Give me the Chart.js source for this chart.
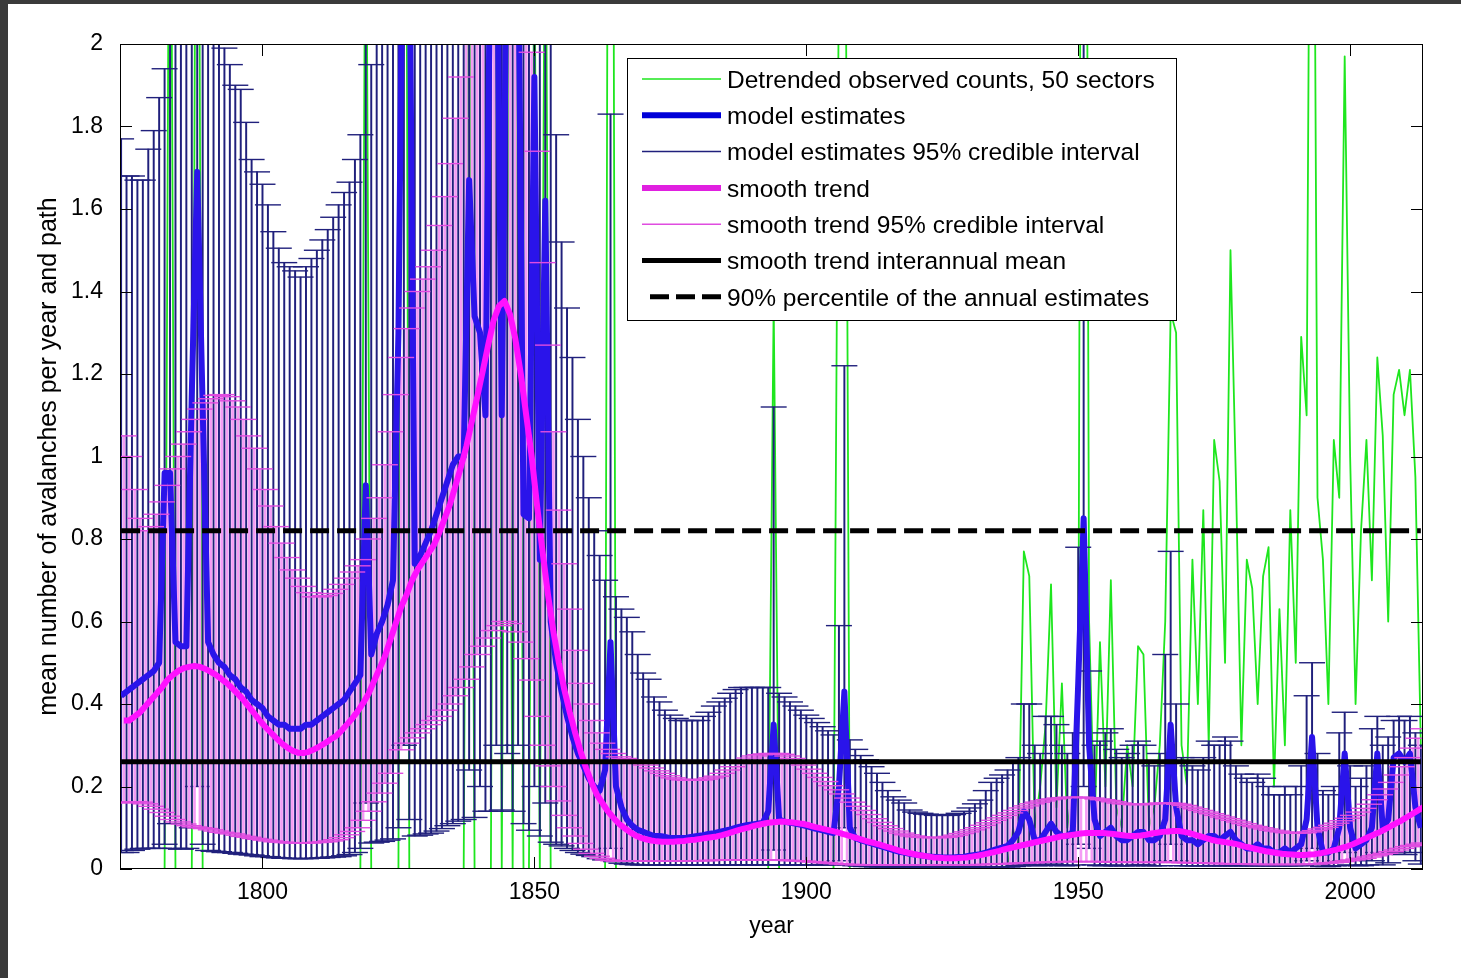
<!DOCTYPE html>
<html>
<head>
<meta charset="utf-8">
<title>Avalanches per year and path</title>
<script src="https://cdn.jsdelivr.net/npm/chart.js@4.4.1/dist/chart.umd.min.js"></script>
<style>
  html, body { margin: 0; padding: 0; background: #3a3a3a; }
  #wrap { position: absolute; left: 8px; top: 4px; width: 1453px; height: 974px; background: #fff; }
</style>
</head>
<body>
<div id="wrap"><canvas id="chart" width="1453" height="974"></canvas></div>
<script>
'use strict';

// annual values, 1774 .. 2013
const firstYear = 1774;

const observed = [
  0, 0, 0, 0, 0, 0,
  0, 0, 0, 3.0, 0, 0, 0, 0, 3.6, 0,
  0, 0, 0, 0, 0, 0, 0, 0, 0, 0,
  0, 0, 0, 0, 0, 0, 0, 0, 0, 0,
  0, 0, 0, 0, 0, 0, 0, 0, 0, 2.6,
  0, 0, 0, 0, 0, 0, 4.5, 0, 0, 0,
  0, 0, 0, 0, 0, 0, 0, 0, 2.5, 0,
  0, 0, 0, 3.2, 0, 2.4, 0, 2.6, 0, 0,
  2.3, 0, 2.6, 0, 0, 0, 0, 0, 0, 0,
  0, 0, 0, 0, 5.0, 0, 0, 0, 0, 0,
  0, 0, 0, 0, 0, 0, 0, 0, 0, 0,
  0, 0, 0, 0, 0, 0, 0, 0, 0, 0,
  0, 0, 0, 0, 1.37, 0, 0, 0, 0, 0,
  0, 0, 0, 0, 0, 0, 2.2, 3.0, 0, 0,
  0, 0, 0, 0, 0, 0, 0, 0, 0, 0,
  0, 0, 0, 0, 0, 0, 0, 0, 0, 0,
  0, 0, 0, 0, 0, 0, 0, 0, 0.1, 0.05,
  0.77, 0.71, 0.1, 0.2, 0.35, 0.69, 0.15, 0.45, 0.1, 0.2,
  0.3, 5.0, 0.6, 0.1, 0.55, 0.2, 0.7, 0.15, 0.1, 0.3,
  0.2, 0.54, 0.52, 0.1, 0.15, 0.3, 0.6, 1.35, 1.3, 0.3,
  0.2, 0.75, 0.4, 0.87, 0.3, 1.04, 0.94, 0.5, 1.5, 0.94,
  0.3, 0.75, 0.68, 0.4, 0.71, 0.78, 0.2, 0.63, 0.3, 0.87,
  0.5, 1.29, 1.1, 3.5, 0.9, 0.75, 0.4, 1.04, 0.9, 1.97,
  1.0, 0.4, 0.82, 1.04, 0.7, 1.24, 1.05, 0.6, 1.15, 1.21,
  1.1, 1.21, 0.95, 0.3
];

const modelEst = [
  0.42, 0.43, 0.44, 0.45, 0.46, 0.47,
  0.48, 0.5, 0.96, 0.96, 0.55, 0.54, 0.54, 1.15, 1.69, 1.12,
  0.55, 0.52, 0.5, 0.49, 0.47, 0.46, 0.44, 0.43, 0.41, 0.4,
  0.39, 0.37, 0.36, 0.35, 0.35, 0.34, 0.34, 0.34, 0.35, 0.35,
  0.36, 0.37, 0.38, 0.39, 0.4, 0.41, 0.43, 0.45, 0.47, 0.93,
  0.52, 0.57, 0.6, 0.64, 0.7, 1.3, 2.6, 2.3, 0.74, 0.76,
  0.79, 0.82, 0.86, 0.9, 0.94, 0.98, 1.0, 1.0, 1.67, 1.34,
  1.3, 1.1, 2.4, 2.5, 1.1, 2.4, 2.4, 2.3, 0.86, 0.85,
  1.92, 0.75, 1.62, 0.6, 0.5, 0.43, 0.37, 0.32, 0.28, 0.25,
  0.22, 0.2, 0.19, 0.24, 0.55, 0.2, 0.15, 0.12, 0.105, 0.095,
  0.09, 0.085, 0.08, 0.08, 0.078, 0.075, 0.075, 0.075, 0.076, 0.078,
  0.08, 0.082, 0.085, 0.087, 0.09, 0.093, 0.096, 0.1, 0.103, 0.106,
  0.108, 0.11, 0.112, 0.14, 0.35, 0.12, 0.115, 0.112, 0.11, 0.107,
  0.104, 0.1, 0.097, 0.094, 0.09, 0.087, 0.2, 0.43, 0.1, 0.075,
  0.07, 0.066, 0.062, 0.058, 0.054, 0.05, 0.046, 0.042, 0.04, 0.037,
  0.035, 0.033, 0.031, 0.03, 0.029, 0.028, 0.028, 0.028, 0.029, 0.03,
  0.032, 0.034, 0.036, 0.04, 0.044, 0.048, 0.052, 0.056, 0.07, 0.09,
  0.14, 0.12, 0.07, 0.07, 0.09, 0.11, 0.09, 0.08, 0.08, 0.09,
  0.45, 0.85, 0.3, 0.12, 0.08, 0.09, 0.1, 0.08, 0.07, 0.07,
  0.08, 0.09, 0.09, 0.07, 0.07, 0.08, 0.12, 0.35, 0.15, 0.08,
  0.07, 0.07, 0.06, 0.07, 0.08, 0.08, 0.07, 0.08, 0.09, 0.07,
  0.06, 0.05, 0.05, 0.06, 0.05, 0.05, 0.04, 0.04, 0.05, 0.04,
  0.05, 0.06, 0.12, 0.32, 0.1, 0.04, 0.04, 0.05, 0.1, 0.28,
  0.1, 0.05, 0.06, 0.07, 0.1, 0.28, 0.1, 0.12, 0.27, 0.28,
  0.26, 0.28, 0.15, 0.1
];

const modelHi = [
  1.77, 1.68, 1.68, 1.67, 1.67, 1.745,
  1.79, 1.87, 1.94, 2.4, 2.3, 2.3, 2.4, 2.5, 2.8, 2.5,
  2.3, 2.2, 2.05, 1.99, 1.95, 1.9, 1.89, 1.81, 1.72, 1.69,
  1.66, 1.61, 1.545, 1.505, 1.47, 1.46, 1.45, 1.435, 1.46, 1.48,
  1.5, 1.525, 1.55, 1.58, 1.61, 1.64, 1.665, 1.72, 1.78, 2.4,
  1.95, 2.1, 2.2, 2.3, 2.4, 2.6, 3.0, 2.7, 2.5, 2.5,
  2.5, 2.6, 2.6, 2.7, 2.7, 2.8, 2.8, 2.9, 3.0, 2.9,
  3.0, 3.0, 3.0, 3.2, 3.0, 3.2, 3.0, 3.2, 2.8, 2.6,
  2.9, 2.3, 2.6, 2.05, 1.78, 1.52, 1.36, 1.24, 1.09, 1.0,
  0.9, 0.82, 0.76, 0.7, 1.83, 0.66, 0.63, 0.61, 0.575, 0.52,
  0.475, 0.46, 0.417, 0.405, 0.385, 0.373, 0.365, 0.36, 0.36, 0.36,
  0.36, 0.37, 0.38, 0.395, 0.405, 0.414, 0.426, 0.435, 0.44, 0.44,
  0.44, 0.44, 0.44, 0.44, 1.12, 0.426, 0.417, 0.405, 0.395, 0.385,
  0.373, 0.365, 0.355, 0.345, 0.335, 0.325, 0.59, 1.22, 0.313, 0.29,
  0.275, 0.265, 0.248, 0.232, 0.21, 0.19, 0.175, 0.167, 0.16, 0.143,
  0.138, 0.135, 0.133, 0.132, 0.13, 0.13, 0.13, 0.132, 0.135, 0.14,
  0.148, 0.158, 0.167, 0.19, 0.21, 0.22, 0.228, 0.24, 0.26, 0.27,
  0.4, 0.4, 0.3, 0.28, 0.37, 0.37, 0.35, 0.3, 0.28, 0.33,
  0.78, 2.4, 0.48, 0.3, 0.31, 0.33, 0.34, 0.29, 0.27, 0.28,
  0.3, 0.31, 0.3, 0.26, 0.25, 0.28, 0.52, 0.77, 0.4, 0.27,
  0.26, 0.25, 0.24, 0.27, 0.31, 0.3, 0.3, 0.32, 0.31, 0.25,
  0.23, 0.22, 0.21, 0.23, 0.22, 0.2, 0.18, 0.18, 0.2, 0.18,
  0.2, 0.25, 0.42, 0.5, 0.28, 0.19, 0.18, 0.2, 0.33, 0.38,
  0.25, 0.2, 0.22, 0.25, 0.34, 0.37, 0.3, 0.32, 0.36, 0.37,
  0.36, 0.37, 0.33, 0.3
];

const modelLo = [
  0.04, 0.04, 0.045, 0.048, 0.05, 0.05,
  0.05, 0.05, 0.06, 0.11, 0.05, 0.048, 0.05, 0.1, 0.2, 0.06,
  0.045, 0.043, 0.042, 0.04, 0.04, 0.038, 0.036, 0.035, 0.034, 0.032,
  0.03, 0.03, 0.028, 0.027, 0.026, 0.026, 0.025, 0.025, 0.025, 0.026,
  0.026, 0.027, 0.028, 0.029, 0.03, 0.032, 0.035, 0.04, 0.05, 0.16,
  0.063, 0.065, 0.067, 0.07, 0.073, 0.1, 0.3, 0.12, 0.08, 0.082,
  0.085, 0.087, 0.092, 0.098, 0.105, 0.11, 0.116, 0.12, 0.24, 0.125,
  0.2, 0.14, 0.14, 0.3, 0.143, 0.28, 0.14, 0.3, 0.11, 0.094,
  0.2, 0.08, 0.16, 0.065, 0.06, 0.056, 0.05, 0.045, 0.04, 0.036,
  0.033, 0.03, 0.025, 0.022, 0.05, 0.018, 0.014, 0.012, 0.011, 0.01,
  0.01, 0.01, 0.01, 0.01, 0.01, 0.01, 0.01, 0.01, 0.01, 0.01,
  0.01, 0.01, 0.01, 0.01, 0.01, 0.01, 0.01, 0.01, 0.01, 0.01,
  0.01, 0.01, 0.01, 0.01, 0.046, 0.01, 0.01, 0.01, 0.01, 0.01,
  0.01, 0.01, 0.01, 0.01, 0.01, 0.01, 0.02, 0.1, 0.01, 0.008,
  0.007, 0.006, 0.006, 0.005, 0.005, 0.005, 0.005, 0.005, 0.005, 0.005,
  0.005, 0.005, 0.005, 0.005, 0.005, 0.005, 0.005, 0.005, 0.005, 0.005,
  0.005, 0.005, 0.005, 0.005, 0.005, 0.005, 0.005, 0.005, 0.006, 0.008,
  0.012, 0.01, 0.008, 0.008, 0.01, 0.012, 0.01, 0.008, 0.008, 0.01,
  0.06, 0.2, 0.05, 0.01, 0.008, 0.008, 0.01, 0.008, 0.008, 0.008,
  0.008, 0.01, 0.01, 0.008, 0.008, 0.008, 0.02, 0.06, 0.02, 0.008,
  0.008, 0.008, 0.008, 0.008, 0.008, 0.008, 0.008, 0.008, 0.008, 0.008,
  0.008, 0.008, 0.008, 0.008, 0.008, 0.008, 0.008, 0.008, 0.008, 0.008,
  0.008, 0.008, 0.02, 0.05, 0.01, 0.006, 0.006, 0.008, 0.02, 0.04,
  0.01, 0.008, 0.008, 0.01, 0.02, 0.04, 0.01, 0.015, 0.04, 0.04,
  0.035, 0.04, 0.02, 0.012
];

const smoothTrend = [
  0.36, 0.36, 0.37, 0.38, 0.395, 0.41,
  0.425, 0.44, 0.458, 0.47, 0.48, 0.487, 0.49, 0.492, 0.49, 0.485,
  0.478, 0.47, 0.46, 0.45, 0.437, 0.424, 0.41, 0.393, 0.377, 0.36,
  0.345, 0.331, 0.318, 0.305, 0.295, 0.287, 0.282, 0.281, 0.284, 0.29,
  0.297, 0.305, 0.314, 0.322, 0.335, 0.35, 0.365, 0.382, 0.402, 0.425,
  0.455, 0.485, 0.515, 0.555, 0.595, 0.635, 0.665, 0.7, 0.725, 0.745,
  0.765, 0.785, 0.815, 0.85, 0.885, 0.93, 0.975, 1.025, 1.085, 1.145,
  1.207, 1.27, 1.33, 1.365, 1.377, 1.345, 1.285, 1.2, 1.1, 1.0,
  0.88, 0.77, 0.665, 0.575, 0.5, 0.435, 0.38, 0.33, 0.285, 0.245,
  0.21, 0.18, 0.16, 0.14, 0.125, 0.11, 0.1, 0.09, 0.082, 0.076,
  0.072, 0.069, 0.067, 0.066, 0.066, 0.066, 0.067, 0.068, 0.07, 0.071,
  0.073, 0.075, 0.077, 0.079, 0.082, 0.086, 0.09, 0.094, 0.098, 0.101,
  0.105, 0.108, 0.111, 0.113, 0.114, 0.115, 0.114, 0.113, 0.111, 0.109,
  0.106, 0.102, 0.099, 0.096, 0.093, 0.09, 0.086, 0.082, 0.078, 0.074,
  0.07, 0.066, 0.063, 0.059, 0.055, 0.051, 0.047, 0.043, 0.04, 0.037,
  0.034, 0.032, 0.03, 0.028, 0.027, 0.026, 0.026, 0.026, 0.027, 0.028,
  0.03, 0.032, 0.035, 0.038, 0.041, 0.044, 0.048, 0.051, 0.054, 0.057,
  0.06, 0.063, 0.066, 0.069, 0.072, 0.075, 0.078, 0.08, 0.082, 0.084,
  0.086, 0.087, 0.087, 0.087, 0.087, 0.086, 0.085, 0.083, 0.081, 0.08,
  0.08, 0.081, 0.083, 0.086, 0.088, 0.09, 0.091, 0.092, 0.092, 0.09,
  0.087, 0.083, 0.079, 0.075, 0.071, 0.068, 0.066, 0.064, 0.062, 0.059,
  0.055, 0.052, 0.049, 0.046, 0.043, 0.041, 0.039, 0.037, 0.036, 0.035,
  0.034, 0.034, 0.035, 0.036, 0.038, 0.041, 0.044, 0.047, 0.051, 0.055,
  0.06, 0.066, 0.072, 0.078, 0.084, 0.09, 0.097, 0.104, 0.111, 0.118,
  0.126, 0.134, 0.142, 0.15
];

const smoothHi = [
  1.05, 1.0, 0.92, 0.85, 0.82, 0.83,
  0.86, 0.89, 0.93, 0.97, 1.0, 1.03, 1.06, 1.09, 1.115, 1.13,
  1.14, 1.148, 1.15, 1.145, 1.135, 1.12, 1.09, 1.05, 1.02, 0.97,
  0.92, 0.88, 0.83, 0.79, 0.755, 0.725, 0.705, 0.685, 0.67, 0.66,
  0.66, 0.663, 0.668, 0.678, 0.69, 0.705, 0.72, 0.735, 0.75, 0.8,
  0.85, 0.9, 0.98, 1.06, 1.15, 1.24, 1.31, 1.36, 1.4, 1.43,
  1.46, 1.5, 1.56, 1.63, 1.71, 1.82, 1.92, 2.02, 2.1, 2.2,
  2.3, 2.35, 2.4, 2.4, 2.4, 2.35, 2.3, 2.2, 2.1, 1.98,
  1.74, 1.47, 1.27, 1.06, 0.87, 0.74, 0.63, 0.53, 0.45, 0.4,
  0.36, 0.33, 0.305, 0.29, 0.28, 0.272, 0.268, 0.265, 0.262, 0.258,
  0.252, 0.245, 0.238, 0.232, 0.226, 0.221, 0.218, 0.216, 0.215, 0.215,
  0.216, 0.218, 0.221, 0.225, 0.232, 0.24, 0.248, 0.256, 0.263, 0.269,
  0.274, 0.277, 0.279, 0.28, 0.28, 0.278, 0.274, 0.268, 0.26, 0.252,
  0.242, 0.232, 0.222, 0.212, 0.202, 0.192, 0.182, 0.172, 0.162, 0.152,
  0.142, 0.132, 0.122, 0.113, 0.105, 0.098, 0.092, 0.087, 0.083, 0.08,
  0.078, 0.077, 0.076, 0.076, 0.076, 0.077, 0.079, 0.082, 0.086, 0.09,
  0.095, 0.1, 0.106, 0.112, 0.118, 0.124, 0.13, 0.136, 0.142, 0.148,
  0.153, 0.158, 0.162, 0.165, 0.168, 0.17, 0.172, 0.173, 0.174, 0.174,
  0.174, 0.173, 0.172, 0.17, 0.168, 0.166, 0.163, 0.16, 0.158, 0.157,
  0.156, 0.156, 0.157, 0.158, 0.159, 0.16, 0.16, 0.159, 0.157, 0.154,
  0.15, 0.146, 0.142, 0.138, 0.134, 0.13, 0.126, 0.122, 0.118, 0.114,
  0.11, 0.106, 0.103, 0.1, 0.097, 0.094, 0.092, 0.09, 0.088, 0.087,
  0.087, 0.088, 0.09, 0.093, 0.097, 0.101, 0.106, 0.111, 0.117, 0.123,
  0.13, 0.138, 0.147, 0.157, 0.168, 0.18, 0.194, 0.21, 0.228, 0.248,
  0.27, 0.293, 0.317, 0.34
];

const smoothLo = [
  0.16, 0.162, 0.163, 0.162, 0.158, 0.152,
  0.145, 0.137, 0.128, 0.12, 0.114, 0.109, 0.105, 0.102, 0.1, 0.098,
  0.095, 0.092, 0.089, 0.087, 0.085, 0.082, 0.079, 0.077, 0.074, 0.072,
  0.07, 0.068, 0.066, 0.065, 0.064, 0.063, 0.063, 0.063, 0.063, 0.064,
  0.065, 0.066, 0.068, 0.071, 0.076, 0.083, 0.091, 0.1, 0.118, 0.14,
  0.163, 0.184, 0.208, 0.232, 0.26, 0.289, 0.305, 0.318, 0.33, 0.34,
  0.35, 0.36, 0.37, 0.385, 0.4, 0.42, 0.44, 0.46, 0.49, 0.52,
  0.54, 0.56, 0.578, 0.59, 0.6, 0.595, 0.575, 0.55, 0.51, 0.458,
  0.37, 0.3, 0.25, 0.2, 0.165, 0.13, 0.1, 0.08, 0.062, 0.048,
  0.038, 0.031, 0.026, 0.022, 0.02, 0.019, 0.019, 0.019, 0.019, 0.019,
  0.019, 0.019, 0.019, 0.019, 0.019, 0.019, 0.019, 0.02, 0.02, 0.02,
  0.02, 0.02, 0.021, 0.021, 0.021, 0.022, 0.022, 0.022, 0.022, 0.022,
  0.022, 0.022, 0.022, 0.022, 0.022, 0.021, 0.021, 0.02, 0.02, 0.019,
  0.018, 0.017, 0.016, 0.015, 0.014, 0.013, 0.012, 0.011, 0.011, 0.01,
  0.01, 0.01, 0.01, 0.01, 0.01, 0.01, 0.01, 0.01, 0.01, 0.01,
  0.01, 0.01, 0.01, 0.01, 0.01, 0.01, 0.01, 0.01, 0.01, 0.01,
  0.01, 0.01, 0.011, 0.011, 0.012, 0.012, 0.013, 0.013, 0.014, 0.014,
  0.015, 0.015, 0.016, 0.016, 0.017, 0.017, 0.018, 0.018, 0.018, 0.018,
  0.018, 0.018, 0.018, 0.018, 0.018, 0.017, 0.017, 0.017, 0.016, 0.016,
  0.016, 0.016, 0.016, 0.016, 0.016, 0.016, 0.016, 0.016, 0.016, 0.015,
  0.015, 0.015, 0.014, 0.014, 0.014, 0.013, 0.013, 0.013, 0.012, 0.012,
  0.012, 0.012, 0.011, 0.011, 0.011, 0.011, 0.011, 0.011, 0.011, 0.011,
  0.011, 0.011, 0.012, 0.012, 0.013, 0.014, 0.015, 0.016, 0.018, 0.02,
  0.022, 0.024, 0.026, 0.029, 0.032, 0.035, 0.038, 0.042, 0.046, 0.05,
  0.054, 0.057, 0.06, 0.063
];

const trendMean = 0.26;
const pct90 = 0.82;

const xTicks = [1800, 1850, 1900, 1950, 2000];
const yTicks = [0, 0.2, 0.4, 0.6, 0.8, 1, 1.2, 1.4, 1.6, 1.8, 2];

const years = observed.map((_, i) => firstYear + i);

// colours
const GREEN = '#1ee61e';
const BLUE = '#2a14ea';
const NAVY = '#20207c';
const MAGENTA = '#ff10ff';
const PINK = '#f49cf4';
const PINK_CAP = '#e04ce0';
const SMOOTH_SHIFT = 0.5;   // smooth-trend bars sit between the yearly model bars
const CAP = 13;             // half width of error bar caps, px
const TICK = 12;

const pts = (vals, dx = 0) => vals.map((v, i) => ({ x: years[i] + dx, y: v }));
const spans = (lo, hi, dx = 0) => lo.map((v, i) => ({ x: years[i] + dx, y: [v, hi[i]] }));
const hline = v => [{ x: years[0], y: v }, { x: years[years.length - 1], y: v }];

function caps(vals, color, dx, order) {
  return {
    type: 'line', data: pts(vals, dx), showLine: false, order, clip: 0,
    pointStyle: 'line', pointRadius: CAP, pointBorderWidth: 1.4,
    pointBorderColor: color, pointBackgroundColor: color
  };
}

const legendItems = [
  { text: 'Detrended observed counts, 50 sectors', color: GREEN, width: 1.5 },
  { text: 'model estimates', color: '#0000d8', width: 6 },
  { text: 'model estimates 95% credible interval', color: NAVY, width: 1.5 },
  { text: 'smooth trend', color: '#e020e0', width: 6 },
  { text: 'smooth trend 95% credible interval', color: PINK_CAP, width: 1.5 },
  { text: 'smooth trend interannual mean', color: '#000', width: 5 },
  { text: '90% percentile of the annual estimates', color: '#000', width: 5, dash: [19, 7] }
];

const frame = {
  id: 'frame',
  afterDatasetsDraw(chart) {
    const { ctx, chartArea: a, scales: { x, y } } = chart;
    ctx.save();
    ctx.strokeStyle = '#000';
    ctx.lineWidth = 1;
    ctx.strokeRect(a.left + 0.5, a.top + 0.5, a.right - a.left - 1, a.bottom - a.top - 1);
    ctx.beginPath();
    x.ticks.forEach(t => {
      const px = Math.round(x.getPixelForValue(t.value)) + 0.5;
      ctx.moveTo(px, a.bottom); ctx.lineTo(px, a.bottom - TICK);
      ctx.moveTo(px, a.top); ctx.lineTo(px, a.top + TICK);
    });
    y.ticks.forEach(t => {
      const py = Math.round(y.getPixelForValue(t.value)) + 0.5;
      ctx.moveTo(a.left, py); ctx.lineTo(a.left + TICK, py);
      ctx.moveTo(a.right, py); ctx.lineTo(a.right - TICK, py);
    });
    ctx.stroke();
    ctx.restore();
  }
};

const boxLegend = {
  id: 'boxLegend',
  afterDraw(chart) {
    const { ctx, chartArea: a } = chart;
    const left = a.right - 796, top = a.top + 14, w = 549, h = 262;
    ctx.save();
    ctx.fillStyle = '#fff';
    ctx.fillRect(left, top, w, h);
    ctx.strokeStyle = '#000';
    ctx.lineWidth = 1;
    ctx.strokeRect(left + 0.5, top + 0.5, w, h);
    ctx.font = '24.5px "Liberation Sans", Arial, sans-serif';
    ctx.textBaseline = 'middle';
    ctx.fillStyle = '#000';
    legendItems.forEach((it, i) => {
      const cy = top + 22 + i * 36.3;
      ctx.beginPath();
      ctx.strokeStyle = it.color;
      ctx.lineWidth = it.width;
      ctx.setLineDash(it.dash || []);
      ctx.moveTo(left + (it.dash ? 23 : 15), cy - 1);
      ctx.lineTo(left + 94, cy - 1);
      ctx.stroke();
      ctx.setLineDash([]);
      ctx.fillText(it.text, left + 100, cy + 1);
    });
    ctx.restore();
  }
};

Chart.defaults.font.family = '"Liberation Sans", Arial, sans-serif';
Chart.defaults.color = '#000';

new Chart(document.getElementById('chart'), {
  type: 'line',
  data: {
    datasets: [
      { type: 'line', data: hline(pct90), borderColor: '#000', borderWidth: 5, borderDash: [19, 8],
        pointRadius: 0, order: 0, clip: 0 },
      { type: 'line', data: hline(trendMean), borderColor: '#000', borderWidth: 5,
        pointRadius: 0, order: 1, clip: 0 },
      { type: 'line', data: pts(smoothTrend, SMOOTH_SHIFT), borderColor: MAGENTA, borderWidth: 6,
        borderJoinStyle: 'round', pointRadius: 0, order: 2, clip: 0 },
      caps(smoothHi, PINK_CAP, SMOOTH_SHIFT, 3),
      caps(smoothLo, PINK_CAP, SMOOTH_SHIFT, 3),
      { type: 'line', data: pts(modelEst), borderColor: BLUE, borderWidth: 6,
        borderJoinStyle: 'round', pointRadius: 0, order: 4, clip: 0 },
      { type: 'bar', data: spans(smoothLo, smoothHi, SMOOTH_SHIFT), backgroundColor: PINK,
        grouped: false, barThickness: 2, maxBarThickness: 2, order: 5, clip: 0 },
      caps(modelHi, NAVY, 0, 6),
      caps(modelLo, NAVY, 0, 6),
      { type: 'bar', data: spans(modelLo, modelHi), backgroundColor: NAVY,
        grouped: false, barThickness: 1.3, maxBarThickness: 1.3, order: 7, clip: 0 },
      { type: 'line', data: pts(observed), borderColor: GREEN, borderWidth: 1.8,
        borderJoinStyle: 'round', pointRadius: 0, order: 8, clip: 0 }
    ]
  },
  options: {
    responsive: false,
    animation: false,
    events: [],
    layout: { padding: { left: 0, top: 40, right: 38, bottom: 0 } },
    plugins: { legend: { display: false }, tooltip: { enabled: false } },
    scales: {
      x: {
        type: 'linear', min: 1773.8, max: 2013.4, offset: false,
        grid: { display: false }, border: { display: false },
        afterBuildTicks: s => { s.ticks = xTicks.map(v => ({ value: v })); },
        afterFit: s => { s.height = 109; },
        ticks: { font: { size: 23 }, padding: 2, maxRotation: 0, autoSkip: false,
          callback: v => String(v) },
        title: { display: true, text: 'year', font: { size: 23 }, padding: { bottom: 38 } }
      },
      y: {
        min: 0, max: 2,
        grid: { display: false }, border: { display: false },
        afterBuildTicks: s => { s.ticks = yTicks.map(v => ({ value: v })); },
        afterFit: s => { s.width = 112; },
        ticks: { font: { size: 23 }, padding: 9, autoSkip: false,
          callback: v => String(Math.round(v * 10) / 10) },
        title: { display: true, text: 'mean number of avalanches per year and path',
          font: { size: 25 }, padding: { top: 26 } }
      }
    }
  },
  plugins: [frame, boxLegend]
});
</script>
</body>
</html>
